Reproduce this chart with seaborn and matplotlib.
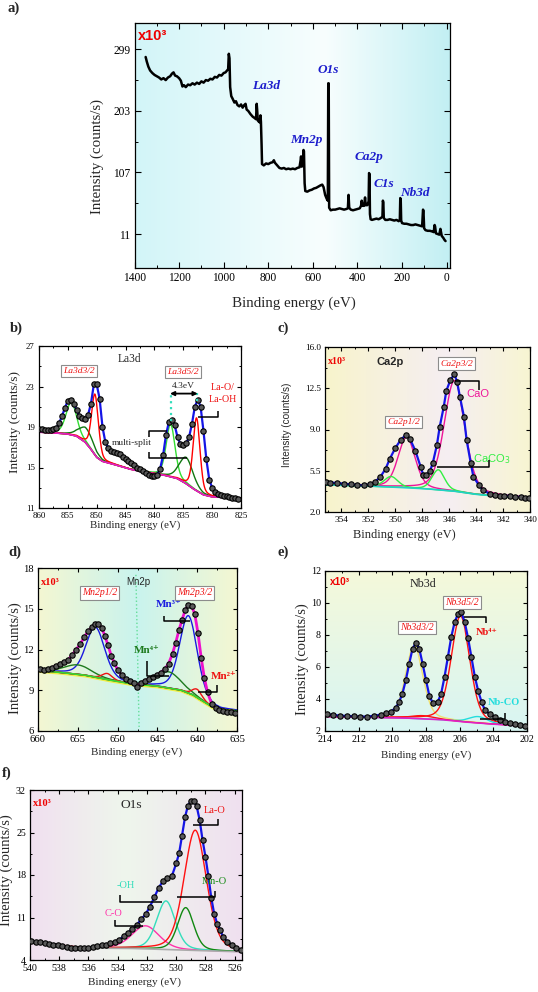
import numpy as np
import seaborn as sns
import matplotlib.pyplot as plt
from matplotlib.colors import LinearSegmentedColormap
from matplotlib.ticker import MultipleLocator, FixedLocator, FormatStrFormatter

# ---------------- values ----------------
# a) survey spectrum
survey_be = [1350, 1345, 1338, 1330, 1320, 1310, 1300, 1290, 1280, 1270,
             1260, 1250, 1240, 1232, 1225, 1218, 1210, 1200, 1192, 1185,
             1178, 1170, 1160, 1150, 1140, 1130, 1120, 1110, 1100, 1090,
             1080, 1070, 1060, 1050, 1040, 1030, 1020, 1010, 1000, 992,
             985, 980, 977, 974, 971, 966, 960, 952, 945, 938,
             930, 922, 915, 908, 902, 897, 890, 880, 870, 862,
             855, 852, 850, 847, 842, 838, 835, 833, 830, 828,
             820, 810, 800, 790, 780, 775, 770, 760, 750, 740,
             730, 720, 710, 700, 690, 680, 670, 660, 655, 653,
             650, 645, 642, 640, 637, 634, 625, 615, 605, 595,
             585, 575, 565, 558, 552, 545, 538, 533, 531, 529,
             527, 520, 510, 500, 490, 480, 470, 460, 450, 443,
             440, 437, 430, 420, 410, 400, 390, 384, 381, 378,
             370, 366, 363, 356, 350, 348, 346, 344, 341, 335,
             325, 315, 305, 295, 288, 286, 284, 282, 275, 265,
             255, 245, 235, 225, 215, 210, 208, 206, 204, 200,
             190, 180, 170, 160, 150, 140, 130, 120, 110, 106,
             104, 101, 95, 85, 75, 65, 58, 54, 52, 48,
             40, 33, 28, 26, 22, 15, 10, 5]
survey_cps = [287, 280, 272, 266, 262, 259, 257, 255, 252, 254,
              251, 255, 257, 261, 263, 258, 257, 254, 250, 241,
              243, 240, 244, 243, 246, 244, 247, 245, 249, 247,
              251, 250, 253, 252, 256, 255, 259, 258, 262, 263,
              266, 268, 292, 285, 240, 226, 222, 216, 218, 212,
              210, 213, 208, 212, 214, 205, 203, 198, 194, 192,
              190, 214, 205, 188, 186, 185, 196, 186, 150, 120,
              118, 121, 120, 122, 123, 126, 122, 118, 114, 113,
              114, 112, 113, 112, 113, 112, 114, 115, 126, 132,
              116, 118, 142, 140, 90, 78, 77, 79, 80, 82,
              83, 85, 87, 88, 84, 72, 66, 63, 246, 246,
              52, 48, 49, 49, 50, 51, 50, 49, 50, 51,
              72, 52, 49, 48, 49, 50, 51, 55, 63, 55,
              55, 68, 56, 56, 62, 106, 104, 42, 34, 33,
              34, 35, 34, 36, 38, 63, 60, 36, 33, 33,
              34, 33, 32, 33, 31, 33, 67, 65, 32, 28,
              27, 27, 26, 25, 25, 26, 25, 24, 23, 49,
              47, 20, 17, 16, 16, 15, 14, 25, 23, 12,
              11, 10, 19, 15, 8, 5, 2, 0]
survey_names = ['La3d', 'Mn2p', 'O1s', 'Ca2p', 'C1s', 'Nb3d']

# b) La3d
la_be = [860.5, 860.0, 859.5, 859.0, 858.5, 858.0, 857.5, 857.0, 856.5, 856.0,
         855.5, 855.0, 854.5, 854.0, 853.5, 853.0, 852.5, 852.0, 851.5, 851.0,
         850.5, 850.0, 849.5, 849.0, 848.5, 848.0, 847.5, 847.0, 846.5, 846.0,
         845.5, 845.0, 844.5, 844.0, 843.5, 843.0, 842.5, 842.0, 841.5, 841.0,
         840.5, 840.0, 839.5, 839.0, 838.5, 838.0, 837.5, 837.0, 836.5, 836.0,
         835.5, 835.0, 834.5, 834.0, 833.5, 833.0, 832.5, 832.0, 831.5, 831.0,
         830.5, 830.0, 829.5, 829.0, 828.5, 828.0, 827.5, 827.0, 826.5, 826.0, 825.5]
la_cps = [18.9, 18.8, 18.8, 18.7, 18.7, 18.7, 18.8, 18.9, 19.4, 20.1,
          20.9, 21.6, 21.7, 21.3, 20.7, 20.1, 19.9, 19.8, 20.2, 21.3,
          23.2, 23.2, 21.8, 19.0, 17.5, 16.9, 16.6, 16.5, 16.4, 16.3,
          16.0, 15.8, 15.6, 15.4, 15.2, 15.0, 14.9, 14.7, 14.5, 14.3,
          14.2, 14.2, 14.3, 14.9, 16.2, 18.2, 19.5, 19.7, 19.2, 18.0,
          17.3, 17.2, 17.4, 18.0, 19.3, 21.0, 21.7, 21.0, 18.6, 15.8,
          13.8, 13.0, 12.6, 12.4, 12.3, 12.2, 12.2, 12.1, 12.0, 12.0, 11.9]
la_bg_be = [860.5, 857.0, 855.0, 853.5, 852.0, 851.0, 850.0, 849.0, 847.0, 844.0,
            841.0, 838.0, 836.0, 834.5, 833.0, 831.5, 830.0, 825.0]
la_bg = [18.5, 18.4, 18.3, 18.1, 17.5, 16.8, 16.0, 15.6, 15.3, 14.8,
         14.5, 14.2, 13.9, 13.4, 12.8, 12.3, 12.1, 11.95]
la_center = [854.4, 837.2, 851.8, 834.5, 850.3, 832.7]
la_height = [3.2, 5.2, 1.5, 2.6, 6.0, 7.2]
la_fwhm = [2.2, 1.8, 3.0, 2.8, 1.4, 1.4]

# c) Ca2p
ca_be = [355.1, 354.8, 354.3, 353.8, 353.3, 352.8, 352.3, 351.9, 351.5, 351.1,
         350.7, 350.4, 350.0, 349.6, 349.2, 348.9, 348.5, 348.1, 347.9, 347.7,
         347.4, 347.2, 346.9, 346.7, 346.4, 346.2, 345.9, 345.6, 345.4, 345.2,
         344.9, 344.7, 344.4, 344.2, 343.8, 343.5, 343.0, 342.6, 342.2, 341.9,
         341.5, 341.1, 340.7, 340.4, 340.1]
ca_cps = [4.55, 4.5, 4.46, 4.4, 4.35, 4.3, 4.26, 4.35, 4.55, 4.97,
          5.68, 6.5, 7.4, 8.1, 8.55, 8.2, 7.2, 5.8, 5.1, 5.1,
          5.5, 6.2, 7.7, 9.2, 10.9, 12.3, 13.2, 13.7, 13.0, 11.8,
          10.1, 8.1, 6.2, 5.0, 4.3, 3.85, 3.56, 3.45, 3.4, 3.38,
          3.36, 3.3, 3.27, 3.22, 3.2]
ca_bg_be = [355.2, 352.0, 349.0, 347.5, 345.5, 344.0, 342.0, 340.0]
ca_bg = [4.3, 4.2, 4.05, 3.95, 3.75, 3.5, 3.3, 3.2]
ca_center = [349.15, 345.6, 350.3, 346.8]
ca_height = [4.3, 9.4, 0.9, 1.7]
ca_fwhm = [1.5, 1.8, 1.2, 1.1]

# d) Mn2p
mn_be = [659.7, 659.2, 658.7, 658.2, 657.7, 657.2, 656.7, 656.2, 655.7, 655.2,
         654.7, 654.2, 653.7, 653.2, 652.8, 652.4, 652.0, 651.6, 651.2, 650.8,
         650.4, 650.0, 649.5, 649.0, 648.5, 648.0, 647.6, 647.1, 646.6, 646.1,
         645.6, 645.1, 644.6, 644.1, 643.6, 643.1, 642.7, 642.3, 641.9, 641.5,
         641.1, 640.7, 640.3, 639.9, 639.5, 639.1, 638.7, 638.2, 637.7, 637.2,
         636.7, 636.2, 635.7, 635.2]
mn_cps = [10.55, 10.5, 10.55, 10.67, 10.8, 10.92, 11.05, 11.25, 11.6, 12.0,
          12.4, 12.9, 13.35, 13.65, 13.9, 13.85, 13.6, 13.0, 12.3, 11.55,
          11.0, 10.5, 10.1, 9.85, 9.65, 9.5, 9.27, 9.55, 9.66, 9.85,
          9.97, 10.1, 10.3, 10.55, 10.95, 11.7, 12.5, 13.4, 14.2, 14.9,
          15.3, 15.2, 14.6, 13.2, 11.4, 9.9, 8.85, 8.0, 7.7, 7.55,
          7.45, 7.43, 7.42, 7.35]
mn_bg_be = [660.0, 657.0, 654.0, 651.0, 648.0, 645.0, 642.0, 640.5, 639.0, 638.0, 637.0, 635.0]
mn_bg = [10.45, 10.3, 10.1, 9.75, 9.45, 9.3, 9.0, 8.65, 8.1, 7.75, 7.58, 7.48]
mn_center = [652.8, 641.1, 655.0, 643.6, 651.3, 640.0]
mn_height = [3.7, 5.7, 0.7, 1.2, 0.45, 0.6]
mn_fwhm = [2.8, 2.6, 4.0, 3.5, 1.5, 1.4]

# e) Nb3d
nb_be = [213.9, 213.5, 213.1, 212.7, 212.3, 211.9, 211.5, 211.1, 210.7, 210.4,
         210.1, 209.8, 209.6, 209.4, 209.2, 209.0, 208.8, 208.6, 208.4, 208.2,
         208.0, 207.8, 207.6, 207.3, 207.1, 206.9, 206.7, 206.5, 206.3, 206.1,
         205.9, 205.7, 205.5, 205.3, 205.1, 204.9, 204.7, 204.5, 204.2, 203.9,
         203.6, 203.3, 203.0, 202.7, 202.4, 202.1]
nb_cps = [3.06, 3.0, 2.96, 2.94, 2.92, 2.9, 2.9, 2.95, 3.02, 3.1,
          3.2, 3.45, 3.8, 4.34, 5.17, 6.2, 7.14, 7.52, 7.14, 6.2,
          5.17, 4.2, 3.76, 3.82, 4.34, 5.38, 6.62, 7.87, 8.8, 9.32,
          9.42, 8.8, 7.8, 6.6, 5.4, 4.5, 3.82, 3.3, 3.05, 2.85,
          2.68, 2.57, 2.48, 2.42, 2.37, 2.31]
nb_bg_be = [214.0, 211.0, 209.0, 207.0, 205.5, 204.0, 202.0]
nb_bg = [2.9, 2.85, 2.8, 2.7, 2.55, 2.43, 2.3]
nb_center = [208.7, 205.95, 204.9, 208.2]
nb_height = [4.55, 6.6, 0.4, 0.2]
nb_fwhm = [1.2, 1.3, 1.3, 1.6]

# f) O1s
o_be = [539.9, 539.6, 539.3, 539.0, 538.7, 538.4, 538.1, 537.8, 537.5, 537.2,
        536.9, 536.6, 536.3, 536.0, 535.7, 535.4, 535.1, 534.8, 534.5, 534.2,
        533.9, 533.6, 533.3, 533.0, 532.7, 532.4, 532.1, 531.8, 531.5, 531.2,
        530.9, 530.6, 530.3, 530.0, 529.8, 529.6, 529.4, 529.2, 529.0, 528.8,
        528.6, 528.4, 528.2, 528.0, 527.8, 527.6, 527.4, 527.2, 527.0, 526.8,
        526.5, 526.2, 525.9, 525.6]
o_cps = [7.05, 6.98, 6.91, 6.8, 6.67, 6.55, 6.44, 6.32, 6.15, 6.03,
         5.97, 5.92, 5.98, 6.05, 6.15, 6.28, 6.4, 6.55, 6.75, 7.0,
         7.3, 7.9, 8.5, 9.05, 9.77, 10.7, 11.5, 12.8, 14.3, 15.9,
         17.0, 17.45, 17.8, 19.9, 21.6, 24.5, 27.5, 29.4, 30.2, 30.25,
         29.3, 27.1, 23.8, 21.0, 17.8, 14.2, 11.6, 10.0, 9.0, 7.84,
         7.0, 6.45, 5.92, 5.65]
o_bg_be = [540.0, 538.0, 536.5, 535.0, 533.0, 531.0, 529.0, 527.0, 525.5]
o_bg = [6.95, 6.45, 6.0, 5.95, 5.9, 5.75, 5.6, 5.45, 5.35]
o_center = [532.1, 530.7, 529.35, 528.7]
o_height = [3.8, 8.0, 7.0, 19.8]
o_fwhm = [2.2, 1.5, 1.3, 1.8]

# ---------------- style ----------------
sns.set_theme(style="ticks")
SERIF = ['Liberation Serif', 'DejaVu Serif']
SANS = ['Liberation Sans', 'DejaVu Sans']
plt.rcParams['font.family'] = SERIF
plt.rcParams['axes.linewidth'] = 0.9
plt.rcParams['axes.edgecolor'] = 'black'

W, H = 538, 992
fig = plt.figure(figsize=(W / 100, H / 100), dpi=100)


def add_ax(l, t, r, b):
    return fig.add_axes([l / W, 1 - b / H, (r - l) / W, (b - t) / H])


def shade(ax, stops, vertical=False):
    cmap = LinearSegmentedColormap.from_list('bgshade', stops)
    grad = np.linspace(0, 1, 256).reshape(1, -1)
    if vertical:
        grad = grad.T
    x0, x1 = ax.get_xlim()
    y0, y1 = ax.get_ylim()
    ax.imshow(grad, cmap=cmap, extent=(x0, x1, y0, y1), origin='upper',
              aspect='auto', zorder=0, interpolation='bicubic')
    ax.set_xlim(x0, x1)
    ax.set_ylim(y0, y1)


def pv(x, c, h, w):
    d = (x - c) / w
    return h * (0.3 / (1 + 4 * d ** 2) + 0.7 * np.exp(-4 * np.log(2) * d ** 2))


def axes_style(ax, xmaj, yticks, fs, xlab, ylab, xl_fs, yl_fs, yl_family=SERIF):
    ax.xaxis.set_major_locator(MultipleLocator(xmaj))
    ax.xaxis.set_minor_locator(MultipleLocator(xmaj / 2))
    step = yticks[1] - yticks[0]
    ax.yaxis.set_major_locator(FixedLocator(yticks))
    ax.yaxis.set_minor_locator(FixedLocator([t + step / 2 for t in yticks[:-1]]))
    ax.tick_params(which='both', direction='in', top=True, right=True,
                   labelsize=fs, colors='black')
    ax.tick_params(axis='x', pad=3)
    ax.tick_params(axis='y', pad=3)
    ax.tick_params(which='major', length=3, width=0.8)
    ax.tick_params(which='minor', length=1.7, width=0.7)
    ax.set_xlabel('')
    ax.set_ylabel('')
    ax.grid(False)
    ax.text(xlab[0], xlab[1], 'Binding energy (eV)', transform=ax.transAxes,
            ha='center', va='center', fontsize=xl_fs)
    ax.text(ylab[0], ylab[1], 'Intensity (counts/s)', transform=ax.transAxes,
            ha='center', va='center', rotation=90, fontsize=yl_fs, family=yl_family)


def fit_panel(ax, be, cps, bg_be, bg_val, centers, heights, widths, colors,
              env_color, bg_color, env_lw=1.6):
    x0, x1 = ax.get_xlim()
    grid = np.linspace(min(x0, x1), max(x0, x1), 700)
    bg = np.interp(grid, bg_be[::-1], bg_val[::-1])
    for c, h, w, col in zip(centers, heights, widths, colors):
        sns.lineplot(x=grid, y=bg + pv(grid, c, h, w), ax=ax, color=col,
                     linewidth=1.0, zorder=2)
    sns.lineplot(x=bg_be, y=bg_val, ax=ax, color=bg_color, linewidth=1.2, zorder=2)
    sns.lineplot(x=be, y=cps, ax=ax, color=env_color, linewidth=env_lw, zorder=3)
    sns.scatterplot(x=be, y=cps, ax=ax, s=15, color='#595959', edgecolor='black',
                    linewidth=0.8, zorder=4)


def boxed(ax, x, y, s, fs=6.8):
    ax.text(x, y, s, color='#ee1111', style='italic', fontsize=fs, ha='center',
            va='center', zorder=6,
            bbox=dict(boxstyle='square,pad=0.22', fc='white', ec='#8c8c8c', lw=0.8))


def bracket(ax, xs, ys):
    ax.plot(xs, ys, color='black', lw=1.1, zorder=5, solid_capstyle='butt')


def x10(ax, x, y, fs, family=SERIF):
    ax.text(x, y, 'x10³', transform=ax.transAxes, color='#ee0000', fontsize=fs,
            fontweight='bold', family=family, ha='left', va='center', zorder=6)


# ---------------- a) survey ----------------
ax = add_ax(134.5, 23, 450, 268)
ax.set_xlim(1400, -15)
ax.set_ylim(-42, 340)
shade(ax, [(0, '#d2f5f8'), (0.6, '#f8fefe'), (1, '#c2eff3')])
sns.lineplot(x=survey_be, y=survey_cps, ax=ax, color='black', linewidth=1.8,
             sort=False, zorder=3)
axes_style(ax, 200, [11, 107, 203, 299], 8.3, (0.506, -0.143), (-0.119, 0.457), 10.8, 10.8)
ax.tick_params(which='major', length=4)
ax.tick_params(which='minor', length=2.2)
x10(ax, 0.011, 0.947, 10.5, SANS)
for name, xe, ye in zip(survey_names, [812, 630, 530, 350, 282, 144],
                        [242, 158, 266.5, 131, 89, 75.4]):
    ax.text(xe, ye, name, color='#1c1ccc', fontsize=9.5, fontweight='bold',
            style='italic', ha='center', va='center', zorder=5)

# ---------------- b) La3d ----------------
ax = add_ax(39, 346, 241, 508)
ax.set_xlim(860, 825)
ax.set_ylim(11, 27)
fit_panel(ax, la_be, la_cps, la_bg_be, la_bg, la_center, la_height, la_fwhm,
          ['#33dd33', '#33dd33', '#117711', '#117711', '#ff0000', '#ff0000'],
          '#1515e6', '#e020c8')
axes_style(ax, 5, [11, 15, 19, 23, 27], 6.3, (0.475, -0.105), (-0.119, 0.533), 7.8, 9.5)
ax.text(844.3, 25.7, 'La3d', fontsize=8.3, ha='center', va='center')
boxed(ax, 853.1, 24.55, 'La3d3/2')
boxed(ax, 835.0, 24.4, 'La3d5/2')
ax.plot([837.2, 837.2], [19.6, 22.4], ls=':', color='#33ddbb', lw=1.6, zorder=5)
ax.plot([832.6, 832.6], [21.6, 22.4], ls=':', color='#33ddbb', lw=1.6, zorder=5)
ax.annotate('', xy=(832.5, 22.3), xytext=(837.3, 22.3),
            arrowprops=dict(arrowstyle='<|-|>', color='black', lw=1.3,
                            mutation_scale=6, shrinkA=0, shrinkB=0), zorder=6)
ax.text(835.0, 23.05, '4.3eV', fontsize=6.8, ha='center', va='center')
ax.text(844.0, 17.4, 'multi-split', fontsize=6.8, ha='center', va='center')
bracket(ax, [841.0, 841.0, 837.8], [18.0, 18.56, 18.56])
bracket(ax, [841.0, 841.0, 834.4], [16.5, 15.93, 15.93])
bracket(ax, [832.4, 828.9, 828.9], [19.97, 19.97, 20.6])
ax.text(828.2, 22.3, 'La-O/\nLa-OH', color='#ee1111', fontsize=7.2,
        ha='center', va='center', linespacing=1.5)

# ---------------- c) Ca2p ----------------
ax = add_ax(325, 347, 530, 512)
ax.set_xlim(355.2, 340)
ax.set_ylim(2, 16)
shade(ax, [(0, '#f8f4cc'), (0.6, '#f5eef2'), (1, '#f8f5d2')])
fit_panel(ax, ca_be, ca_cps, ca_bg_be, ca_bg, ca_center, ca_height, ca_fwhm,
          ['#ee1599', '#ee1599', '#33ee44', '#33ee44'], '#1515e6', '#22d0c8')
axes_style(ax, 2, [2, 5.5, 9, 12.5, 16], 6.6, (0.385, -0.139), (-0.187, 0.527), 9.0, 7.2, SANS)
ax.yaxis.set_major_formatter(FormatStrFormatter('%.1f'))
x10(ax, 0.016, 0.915, 7.2)
ax.text(350.37, 14.73, 'Ca2p', fontsize=8, fontweight='bold', family=SANS,
        ha='center', va='center')
boxed(ax, 345.43, 14.6, 'Ca2p3/2')
boxed(ax, 349.38, 9.64, 'Ca2p1/2')
ax.text(343.83, 11.98, 'CaO', color='#ee1599', fontsize=8, family=SANS,
        ha='center', va='center')
bracket(ax, [345.53, 343.75, 343.75], [13.12, 13.12, 12.38])
ax.text(342.84, 6.53, 'CaCO$_3$', color='#33ee44', fontsize=8, family=SANS,
        ha='center', va='center')
bracket(ax, [346.91, 343.01, 343.01], [5.82, 5.82, 6.38])

# ---------------- d) Mn2p ----------------
ax = add_ax(38, 568, 237, 731)
ax.set_xlim(660, 635)
ax.set_ylim(6, 18)
shade(ax, [(0, '#f4f7d2'), (0.5, '#c9f3ee'), (1, '#f4f7d2')])
ax.plot([647.7, 647.3], [17.5, 6.3], ls=':', color='#66dd99', lw=1.0, zorder=1)
sns.lineplot(x=mn_bg_be, y=[v - 0.06 for v in mn_bg], ax=ax, color='#eeee44',
             linewidth=2.0, zorder=2)
fit_panel(ax, mn_be, mn_cps, mn_bg_be, mn_bg, mn_center, mn_height, mn_fwhm,
          ['#1a1ae0', '#1a1ae0', '#1e7a1e', '#1e7a1e', '#ee1111', '#ee1111'],
          '#ee11cc', '#33dd33', env_lw=2.0)
axes_style(ax, 5, [6, 9, 12, 15, 18], 7.6, (0.497, -0.129), (-0.116, 0.448), 7.9, 10.5)
x10(ax, 0.017, 0.914, 7.5)
ax.text(647.35, 17.0, 'Mn2p', fontsize=7, family=SANS, ha='center', va='center')
boxed(ax, 652.25, 16.16, 'Mn2p1/2', 7)
boxed(ax, 640.32, 16.16, 'Mn2p3/2', 7)
ax.text(643.52, 15.3, 'Mn³⁺', color='#1a1ae0', fontsize=8, fontweight='bold',
        ha='center', va='center')
bracket(ax, [644.16, 644.16, 640.96], [14.43, 14.07, 14.07])
ax.text(646.29, 11.93, 'Mn⁴⁺', color='#1e7a1e', fontsize=8, fontweight='bold',
        ha='center', va='center')
bracket(ax, [646.29, 646.29, 643.52], [11.12, 10.06, 10.06])
ax.text(636.7, 10.0, 'Mn²⁺', color='#ee1111', fontsize=8, fontweight='bold',
        ha='center', va='center')
bracket(ax, [639.9, 637.56, 637.56], [8.9, 8.9, 9.39])

# ---------------- e) Nb3d ----------------
ax = add_ax(325, 571, 527, 731)
ax.set_xlim(214, 202)
ax.set_ylim(2, 12)
shade(ax, [(0, '#f5f9da'), (1, '#d8f5f3')], vertical=True)
fit_panel(ax, nb_be, nb_cps, nb_bg_be, nb_bg, nb_center, nb_height, nb_fwhm,
          ['#f0e070', '#ff1111', '#22dddd', '#ff1111'], '#1515e6', '#e020c8')
axes_style(ax, 2, [2, 4, 6, 8, 10, 12], 7.2, (0.499, -0.15), (-0.115, 0.45), 7.8, 10.5)
x10(ax, 0.025, 0.93, 7.2, SANS)
ax.text(208.15, 11.18, 'Nb3d', fontsize=8.7, ha='center', va='center')
boxed(ax, 205.87, 10.04, 'Nb3d5/2', 7)
boxed(ax, 208.55, 8.49, 'Nb3d3/2', 7)
ax.text(204.42, 8.18, 'Nb⁴⁺', color='#ee1111', fontsize=7.5, fontweight='bold',
        ha='center', va='center')
bracket(ax, [205.77, 204.42, 204.42], [9.11, 9.11, 8.74])
ax.text(203.39, 3.76, 'Nb-CO', color='#22dddd', fontsize=7.5, fontweight='bold',
        ha='center', va='center')
bracket(ax, [204.78, 203.29, 203.29], [2.75, 2.75, 3.1])

# ---------------- f) O1s ----------------
ax = add_ax(30, 790, 242, 960)
ax.set_xlim(540, 525.5)
ax.set_ylim(4, 32)
shade(ax, [(0, '#f1e0f0'), (0.45, '#eef6ec'), (1, '#f0e0f0')])
fit_panel(ax, o_be, o_cps, o_bg_be, o_bg, o_center, o_height, o_fwhm,
          ['#ff33aa', '#33ddbb', '#118811', '#ff1111'], '#1515e6', '#aaaaaa')
axes_style(ax, 2, [4, 11, 18, 25, 32], 7.2, (0.495, -0.129), (-0.11, 0.53), 8.1, 10.5)
x10(ax, 0.016, 0.918, 7.5)
ax.text(533.1, 29.54, 'O1s', fontsize=9.7, ha='center', va='center')
ax.text(527.36, 28.6, 'La-O', color='#ee1111', fontsize=7.5, ha='center', va='center')
bracket(ax, [528.84, 527.13, 527.13], [26.24, 26.24, 27.17])
ax.text(527.36, 16.9, 'Mn-O', color='#118811', fontsize=7.5, ha='center', va='center')
bracket(ax, [529.93, 527.36, 527.36], [14.43, 14.43, 15.42])
ax.text(533.42, 16.19, '-OH', color='#33ddbb', fontsize=7.5, ha='center', va='center')
bracket(ax, [533.87, 533.87, 530.99], [14.71, 13.61, 13.61])
ax.text(534.28, 11.58, 'C-O', color='#ff33aa', fontsize=7.5, ha='center', va='center')
bracket(ax, [534.21, 534.21, 532.24], [10.59, 9.6, 9.6])

# ---------------- panel letters ----------------
for letter, px, py in [('a)', 8, 2), ('b)', 10, 322), ('c)', 278, 322),
                       ('d)', 8, 546), ('e)', 278, 546), ('f)', 2, 767)]:
    fig.text(px / W, 1 - py / H, letter, fontsize=10.5, fontweight='bold',
             ha='left', va='top')

fig.savefig('out.png', dpi=100)
